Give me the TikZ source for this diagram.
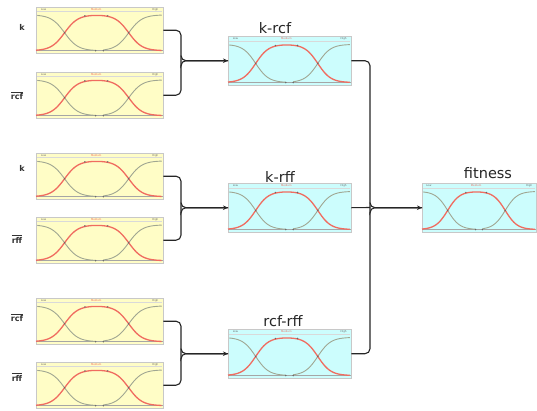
\documentclass[tikz,border=0pt]{standalone}
\usepackage{fontspec}
\setmainfont{DejaVu Sans}
\usetikzlibrary{arrows.meta}
\definecolor{yfill}{RGB}{255,253,198}
\definecolor{cfill}{RGB}{204,253,253}
\definecolor{redc}{RGB}{240,108,96}
\definecolor{grayc}{RGB}{160,166,146}
\definecolor{boxline}{RGB}{200,200,200}
\newcommand\mfchart[3]{%
  \begin{scope}[shift={(#1.north west)}]
    \pgfmathsetmacro\yt{0.17*#3}
    \pgfmathsetmacro\yb{0.95*#3}
    \draw[axisline] (0,\yb) -- (#2,\yb);
    \draw[axisline, draw=boxline!70] (0.01*#2,0.1*#3) -- (0.99*#2,0.1*#3);
    \draw[lowc] plot[domain=0.01:0.47,samples=40] ({\x*#2},{\yb-(\yb-\yt)*lowf(\x)});
    \draw[lowc] plot[domain=0.53:0.99,samples=40] ({\x*#2},{\yb-(\yb-\yt)*highf(\x)});
    \draw[medc] plot[domain=0.0:0.99,samples=70] ({\x*#2},{\yb-(\yb-\yt)*medf(\x)});
    \foreach \px/\pv in {0.225/0.5,0.73/0.5,0.385/0.97,0.565/0.97,0.47/0,0.53/0}
      \fill[black!60] ({\px*#2},{\yb-(\yb-\yt)*\pv}) circle (0.8);
    \node[tiny] at (0.06*#2,0.06*#3) {Low};
    \node[tiny, text=redc] at (0.475*#2,0.06*#3) {Medium};
    \node[tiny] at (0.94*#2,0.06*#3) {High};
  \end{scope}}
\begin{document}
\begin{tikzpicture}[x=1pt,y=-1pt,
  declare function={lowf(\t)=1/(1+exp(19*(\t-0.225)));
                    highf(\t)=1/(1+exp(-19*(\t-0.73)));
                    medf(\t)=1/((1+exp(-19*(\t-0.225)))*(1+exp(19*(\t-0.73))));},
  ybox/.style={draw=boxline, fill=yfill, minimum width=127pt, minimum height=46pt, inner sep=0pt, anchor=north west},
  cbox/.style={draw=boxline, fill=cfill, minimum width=123pt, minimum height=49pt, inner sep=0pt, anchor=north west},
  axisline/.style={draw=gray!70, line width=0.5pt},
  lowc/.style={draw=grayc, line width=0.9pt},
  medc/.style={draw=redc, line width=1.3pt},
  tiny/.style={font=\fontsize{2.6}{3}\selectfont, text=black!60, inner sep=0pt},
  ttl/.style={font=\fontsize{14.5}{16}\selectfont, text=black!85, inner sep=0pt},
  lbl/.style={font=\fontsize{8}{9}\selectfont\bfseries, text=black!80, inner sep=0pt},
  conn/.style={draw=black!85, line width=1.1pt, rounded corners=5pt},
  arr/.style={conn, -{Stealth[length=5pt,width=4.5pt]}}
]
\useasboundingbox (0,0) rectangle (537,410);
\clip (0,0) rectangle (537,410);
\fill[white] (0,0) rectangle (537,410);

% input boxes
\node[ybox] (b1) at (36,7) {};
\node[ybox] (b2) at (36,72) {};
\node[ybox] (b3) at (36,153) {};
\node[ybox] (b4) at (36,217) {};
\node[ybox] (b5) at (36,298) {};
\node[ybox] (b6) at (36,362) {};
\foreach \n in {b1,b2,b3,b4,b5,b6} {\mfchart{\n}{127}{46}}

% intermediate boxes
\node[cbox] (c1) at (228,36) {};
\node[cbox] (c2) at (228,183) {};
\node[cbox] (c3) at (228,329) {};
\foreach \n in {c1,c2,c3} {\mfchart{\n}{123}{49}}
\node[cbox, minimum width=114pt] (f) at (422,183) {};
\mfchart{f}{114}{49}

% titles
\node[ttl] (t1) at (275,28) {k-rcf};
\node[ttl] (t2) at (280,177) {k-rff};
\node[ttl] (t3) at (283,321) {rcf-rff};
\node[ttl] (t4) at (488,173) {fitness};

% input labels
\node[lbl] (l1) at (22,27) {k};
\node[lbl] (l2) at (17,96) {$\overline{\mbox{rcf}}$};
\node[lbl] (l3) at (22,168) {k};
\node[lbl] (l4) at (17,239) {$\overline{\mbox{rff}}$};
\node[lbl] (l5) at (17,318) {$\overline{\mbox{rcf}}$};
\node[lbl] (l6) at (17,377) {$\overline{\mbox{rff}}$};

% junctions
\coordinate (j1) at (181,60.5);
\coordinate (j2) at (181,207.5);
\coordinate (j3) at (181,353.5);
\coordinate (j4) at (370,207.5);

\draw[conn] (b1.east) -| (j1) |- (b2.east);
\draw[arr] ([yshift=5pt]j1) |- (c1.west);
\draw[conn] ([yshift=-5pt]j1) |- (c1.west);

\draw[conn] (b3.east) -| (j2) |- (b4.east);
\draw[arr] ([yshift=5pt]j2) |- (c2.west);
\draw[conn] ([yshift=-5pt]j2) |- (c2.west);

\draw[conn] (b5.east) -| (j3) |- (b6.east);
\draw[arr] ([yshift=5pt]j3) |- (c3.west);
\draw[conn] ([yshift=-5pt]j3) |- (c3.west);

\draw[conn] (c1.east) -| (j4) |- (c3.east);
\draw[conn] (c2.east) -- (j4);
\draw[arr] ([yshift=5pt]j4) |- (f.west);
\draw[conn] ([yshift=-5pt]j4) |- (f.west);
\end{tikzpicture}
\end{document}
